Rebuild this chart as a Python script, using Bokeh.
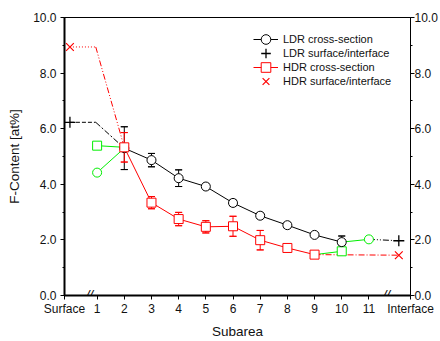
from bokeh.plotting import figure
from bokeh.models import (Range1d, LinearAxis, FixedTicker, SingleIntervalTicker,
                          PrintfTickFormatter, Whisker, TeeHead, ColumnDataSource,
                          Legend, LegendItem, Label)
from bokeh.embed import file_html
from bokeh.resources import INLINE

FONT = "Liberation Sans"

# ---- data ----
x_ticks = [-0.2, 1, 2, 3, 4, 5, 6, 7, 8, 9, 10, 11, 12.53]
x_tick_labels = ["Surface", "1", "2", "3", "4", "5", "6", "7", "8", "9", "10", "11", "Interface"]

subarea_ldr = [2, 3, 4, 5, 6, 7, 8, 9, 10]
ldr_cross = [5.30, 4.87, 4.22, 3.92, 3.33, 2.87, 2.53, 2.18, 1.92]
ldr_err_up = [0.77, 0.24, 0.30, 0.10, 0.10, 0.10, 0.10, 0.08, 0.22]
ldr_err_lo = [0.77, 0.24, 0.30, 0.10, 0.10, 0.10, 0.10, 0.08, 0.10]

subarea_hdr = [2, 3, 4, 5, 6, 7, 8, 9]
hdr_cross = [5.33, 3.34, 2.75, 2.47, 2.49, 1.99, 1.71, 1.47]
hdr_err = [0.53, 0.22, 0.24, 0.22, 0.36, 0.35, 0.10, 0.07]

pos_surf_int = [0.0, 12.1]
ldr_surf_int = [6.23, 1.97]
hdr_surf_int = [8.94, 1.45]

# links surface -> subarea 2 (horizontal part then slanted part)
ldr_surf_link_x = [0.0, 0.95, 2]
ldr_surf_link_y = [6.23, 6.23, 5.30]
hdr_surf_link_x = [0.0, 0.95, 2]
hdr_surf_link_y = [8.94, 8.94, 5.33]
# links to interface
ldr_int_link_x = [11, 12.1]
ldr_int_link_y = [2.02, 1.97]
hdr_int_link_x = [9, 12.1]
hdr_int_link_y = [1.47, 1.45]

# green (additional) points and links
green_circ_x = [1, 11]
green_circ_y = [4.42, 2.02]
green_sq_x = [1, 10]
green_sq_y = [5.39, 1.59]
green_circ_link1_x = [1, 2]
green_circ_link1_y = [4.42, 5.30]
green_circ_link2_x = [10, 11]
green_circ_link2_y = [1.92, 2.02]
green_sq_link1_x = [1, 2]
green_sq_link1_y = [5.39, 5.33]
green_sq_link2_x = [9, 10]
green_sq_link2_y = [1.47, 1.59]

legend_labels = ["LDR cross-section", "LDR surface/interface",
                 "HDR cross-section", "HDR surface/interface"]

BLACK = "#000000"
RED = "#FF0000"
GREEN = "#00EE00"

p = figure(width=440, height=341, x_range=Range1d(-0.2, 12.53), y_range=Range1d(0, 10),
           output_backend="svg", toolbar_location=None,
           min_border_left=64, min_border_right=30, min_border_top=17, min_border_bottom=45)
p.xgrid.visible = False
p.ygrid.visible = False
p.outline_line_color = "black"
p.outline_line_width = 1
p.background_fill_color = "white"

# axes
ax = p.xaxis[0]
ax.ticker = FixedTicker(ticks=x_ticks, minor_ticks=[])
ax.major_label_overrides = {t: l for t, l in zip(x_ticks, x_tick_labels)}
ax.axis_label = "Subarea"

ay = p.yaxis[0]
ay.ticker = SingleIntervalTicker(interval=2, num_minor_ticks=2)
ay.formatter = PrintfTickFormatter(format="%.1f")
ay.axis_label = "F-Content [at%]"

ay2 = LinearAxis(ticker=SingleIntervalTicker(interval=2, num_minor_ticks=2),
                 formatter=PrintfTickFormatter(format="%.1f"))
p.add_layout(ay2, "right")

for a in (ax, ay, ay2):
    a.axis_line_color = "black"
    a.major_tick_line_color = "black"
    a.minor_tick_line_color = "black"
    a.major_tick_in = 0
    a.major_tick_out = 4
    a.minor_tick_in = 0
    a.minor_tick_out = 2
    a.major_label_text_font = FONT
    a.major_label_text_font_size = "12px"
    a.major_label_text_color = "#111111"
    a.axis_label_text_font = FONT
    a.axis_label_text_font_size = "13.5px"
    a.axis_label_text_font_style = "normal"
    a.axis_label_text_color = "#111111"
ax.axis_line_width = 2
ay.axis_line_width = 2
ay2.axis_line_width = 1
ax.major_label_standoff = 2
ay.major_label_standoff = 4
ay2.major_label_standoff = 0
ay2.axis_label_standoff = 0
ax.axis_label_standoff = 5
ay.axis_label_standoff = 8

# green links & markers
p.line(green_circ_link1_x, green_circ_link1_y, line_color=GREEN, line_width=1)
p.line(green_circ_link2_x, green_circ_link2_y, line_color=GREEN, line_width=1)
p.line(green_sq_link1_x, green_sq_link1_y, line_color=GREEN, line_width=1)
p.line(green_sq_link2_x, green_sq_link2_y, line_color=GREEN, line_width=1)

# surface / interface links
p.line(ldr_surf_link_x[:2], ldr_surf_link_y[:2], line_color=BLACK, line_width=1, line_dash="4 2")
p.line(ldr_surf_link_x[1:], ldr_surf_link_y[1:], line_color=BLACK, line_width=1, line_dash="6 2 2 2")
p.line(hdr_surf_link_x[:2], hdr_surf_link_y[:2], line_color=RED, line_width=1, line_dash="1 2")
p.line(hdr_surf_link_x[1:], hdr_surf_link_y[1:], line_color=RED, line_width=1, line_dash="6 2 1 2 1 2")
p.line(ldr_int_link_x, ldr_int_link_y, line_color=BLACK, line_width=1, line_dash="6 2 1 2 1 2")
p.line(hdr_int_link_x, hdr_int_link_y, line_color=RED, line_width=1, line_dash="6 2 1 2")

# cross-section lines
ldr_line = p.line(subarea_ldr, ldr_cross, line_color=BLACK, line_width=1)
hdr_line = p.line(subarea_hdr, hdr_cross, line_color=RED, line_width=1)

# error bars (stems below markers)
src_ldr = ColumnDataSource(dict(x=subarea_ldr, up=[v + e for v, e in zip(ldr_cross, ldr_err_up)],
                                lo=[v - e for v, e in zip(ldr_cross, ldr_err_lo)]))
src_hdr = ColumnDataSource(dict(x=subarea_hdr, up=[v + e for v, e in zip(hdr_cross, hdr_err)],
                                lo=[v - e for v, e in zip(hdr_cross, hdr_err)]))
for src, col in ((src_ldr, BLACK), (src_hdr, RED)):
    p.add_layout(Whisker(base="x", upper="up", lower="lo", source=src, line_color=col, line_width=1,
                         upper_head=TeeHead(size=7, line_color=col, line_width=1),
                         lower_head=TeeHead(size=7, line_color=col, line_width=1)))

# markers
p.scatter(green_circ_x, green_circ_y, marker="circle", size=9, line_color=GREEN, fill_color="white", line_width=1)
p.scatter(green_sq_x, green_sq_y, marker="square", size=9, line_color=GREEN, fill_color="white", line_width=1)
ldr_pts = p.scatter(subarea_ldr, ldr_cross, marker="circle", size=9, line_color=BLACK, fill_color="white", line_width=1)
hdr_pts = p.scatter(subarea_hdr, hdr_cross, marker="square", size=9, line_color=RED, fill_color="white", line_width=1)
ldr_si = p.scatter(pos_surf_int, ldr_surf_int, marker="cross", size=11, line_color=BLACK, line_width=1.3)
hdr_si = p.scatter(pos_surf_int, hdr_surf_int, marker="x", size=11, line_color=RED, line_width=1.2)

# caps on top of markers
for src, col in ((src_ldr, BLACK), (src_hdr, RED)):
    p.add_layout(Whisker(base="x", upper="up", lower="lo", source=src, line_alpha=0,
                         upper_head=TeeHead(size=7, line_color=col, line_width=1),
                         lower_head=TeeHead(size=7, line_color=col, line_width=1)))

# axis break marks
for bx in (0.72, 11.65):
    p.add_layout(Label(x=bx, y=0, text="//", text_font=FONT, text_font_size="13px",
                       text_font_style="italic", text_align="center", text_baseline="middle",
                       text_color="black", y_offset=1))

# legend: one Legend per row so the symbols can be drawn larger than the row pitch
legend_renderers = [[ldr_line, ldr_pts], [ldr_si], [hdr_line, hdr_pts], [hdr_si]]
row_bottoms = [244.5, 230.3, 216.0, 201.8]
for lab, rends, yb in zip(legend_labels, legend_renderers, row_bottoms):
    lg = Legend(items=[LegendItem(label=lab, renderers=rends)], location=(189, yb))
    lg.label_text_font = FONT
    lg.label_text_font_size = "11px"
    lg.label_text_color = "#111111"
    lg.glyph_width = 25
    lg.glyph_height = 24
    lg.label_height = 14
    lg.spacing = 0
    lg.padding = 0
    lg.margin = 0
    lg.label_standoff = 5
    lg.border_line_alpha = 0
    lg.background_fill_alpha = 0
    lg.click_policy = "none"
    p.add_layout(lg, "center")

open("out.html", "w").write(file_html(p, INLINE))
